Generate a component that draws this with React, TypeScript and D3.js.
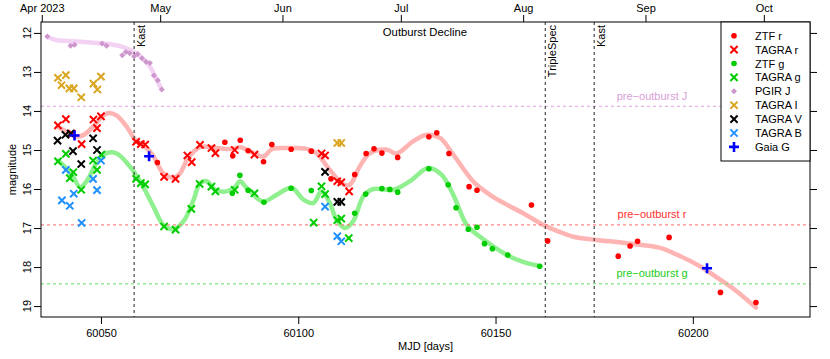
import React, { useEffect, useRef } from 'react';
import * as d3 from 'd3';

type Pt = [number, number];

// photometry: [MJD, magnitude]
const ztfR: Pt[] = [
  [60064.3, 15.32], [60081.4, 14.8], [60083.4, 15.15], [60085.3, 14.75], [60087.3, 15.02],
  [60091.2, 15.3], [60093.3, 14.86], [60098.2, 14.98], [60103.3, 15.03], [60108.3, 15.74],
  [60114.3, 15.63], [60117.2, 15.09], [60119.2, 14.97], [60121.2, 15.08], [60125.2, 15.19],
  [60133.1, 14.66], [60135.1, 14.56], [60138.2, 15.09], [60143.3, 15.94], [60145.3, 16.03],
  [60159.1, 16.41], [60163.2, 17.33], [60181.1, 17.72], [60184.1, 17.46], [60186.0, 17.34],
  [60194.0, 17.24], [60207.0, 18.65], [60216.0, 18.91],
];
const tagraR: Pt[] = [
  [60039.1, 14.37], [60041.1, 14.21], [60042.6, 14.58], [60045.1, 14.85], [60048.1, 14.22],
  [60049.0, 14.44], [60050.0, 14.14], [60058.9, 14.79], [60060.1, 14.85], [60061.2, 14.86],
  [60066.0, 15.69], [60068.9, 15.74], [60071.9, 15.14], [60073.0, 15.31], [60075.1, 14.87],
  [60078.0, 14.95], [60079.0, 15.08], [60083.9, 15.0], [60088.9, 15.12], [60105.9, 15.09],
  [60106.8, 15.14], [60109.9, 15.8], [60110.9, 15.83], [60112.9, 16.06],
];
const ztfG: Pt[] = [
  [60083.3, 16.11], [60085.2, 15.65], [60087.3, 16.03], [60091.3, 16.34], [60098.2, 15.98],
  [60103.3, 16.04], [60114.3, 16.62], [60117.1, 16.13], [60121.2, 15.99], [60123.2, 16.01],
  [60125.2, 16.08], [60133.1, 15.48], [60138.0, 15.89], [60140.0, 16.48], [60143.1, 17.03],
  [60145.3, 16.98], [60147.2, 17.4], [60149.2, 17.53], [60153.1, 17.69], [60161.2, 17.98],
];
const tagraG: Pt[] = [
  [60039.1, 15.29], [60041.1, 15.1], [60042.1, 15.72], [60043.0, 15.57], [60045.0, 16.02],
  [60048.0, 15.27], [60049.0, 15.51], [60050.1, 15.12], [60058.9, 15.74], [60060.1, 15.85],
  [60061.2, 15.88], [60066.0, 16.96], [60068.9, 17.04], [60072.9, 16.51], [60075.0, 15.87],
  [60078.0, 15.94], [60079.0, 16.06], [60083.9, 16.02], [60088.9, 16.11], [60103.9, 16.86],
  [60105.9, 15.93], [60106.8, 16.13], [60109.9, 16.8], [60110.9, 16.76], [60112.8, 17.26],
];
const pgirJ: Pt[] = [
  [60036.4, 12.09], [60042.3, 12.33], [60043.3, 12.3], [60050.3, 12.27], [60051.4, 12.33],
  [60055.4, 12.57], [60056.3, 12.49], [60057.3, 12.52], [60058.4, 12.6], [60059.3, 12.54],
  [60060.4, 12.65], [60061.4, 12.74], [60062.4, 12.77], [60063.4, 13.09], [60064.4, 13.21],
  [60065.4, 13.45],
];
const tagraI: Pt[] = [
  [60039.1, 13.15], [60040.0, 13.34], [60041.1, 13.08], [60042.0, 13.42], [60043.1, 13.42],
  [60045.0, 13.65], [60048.1, 13.3], [60049.1, 13.45], [60050.0, 13.12], [60109.9, 14.82],
  [60110.9, 14.82],
];
const tagraV: Pt[] = [
  [60039.0, 14.76], [60041.0, 14.61], [60042.3, 14.58], [60042.9, 15.03], [60045.0, 15.36],
  [60048.0, 14.7], [60049.0, 15.0], [60106.8, 15.56], [60109.9, 16.33], [60110.9, 16.33],
];
const tagraB: Pt[] = [
  [60040.1, 16.29], [60041.1, 15.51], [60042.1, 16.43], [60043.1, 16.12], [60045.1, 16.87],
  [60048.0, 15.74], [60049.0, 16.03], [60050.0, 15.27], [60106.8, 16.45], [60109.9, 17.21],
  [60110.9, 17.34],
];
const gaiaG: Pt[] = [[60043.3, 14.63], [60062.2, 15.16], [60203.6, 18.03]];

// smoothed light curves (knots)
const rCurve: Pt[] = [
  [60039.1, 14.4], [60041.5, 14.55], [60043.5, 14.65], [60045.5, 14.62], [60048.0, 14.4],
  [60050.5, 14.12], [60052.0, 14.05], [60054.0, 14.12], [60056.5, 14.4], [60058.9, 14.76],
  [60061.2, 14.91], [60063.3, 15.16], [60065.8, 15.6], [60068.3, 15.71], [60070.0, 15.6],
  [60071.8, 15.25], [60073.5, 15.04], [60075.3, 14.92], [60079.3, 14.95], [60083.5, 14.97],
  [60085.3, 14.93], [60087.5, 15.02], [60089.5, 15.12], [60091.2, 15.17], [60093.3, 14.98],
  [60097.1, 14.95], [60102.1, 14.97], [60104.6, 15.08], [60108.0, 15.51], [60111.4, 15.88],
  [60113.1, 15.89], [60115.6, 15.42], [60118.2, 15.08], [60122.4, 14.99], [60124.9, 15.09],
  [60129.1, 14.78], [60132.5, 14.61], [60135.9, 14.69], [60139.3, 15.12], [60144.4, 15.81],
  [60148.6, 16.15], [60152.8, 16.4], [60157.0, 16.62], [60162.1, 16.92], [60166.3, 17.1],
  [60170.0, 17.23], [60175.0, 17.3], [60183.2, 17.39], [60191.7, 17.51], [60195.9, 17.68],
  [60201.8, 17.98], [60206.9, 18.32], [60211.1, 18.62], [60216.0, 19.04],
];
const gCurve: Pt[] = [
  [60039.1, 15.27], [60041.3, 15.48], [60043.0, 15.7], [60044.7, 15.95], [60046.5, 15.78],
  [60048.9, 15.33], [60051.4, 15.08], [60054.0, 15.09], [60057.3, 15.42], [60059.9, 15.8],
  [60063.3, 16.45], [60065.8, 16.92], [60068.3, 17.03], [60070.9, 16.83], [60073.4, 16.3],
  [60075.1, 15.85], [60076.8, 15.8], [60078.9, 16.02], [60081.8, 16.06], [60084.0, 15.95],
  [60085.2, 15.8], [60086.9, 15.97], [60091.1, 16.32], [60094.5, 16.15], [60098.3, 15.97],
  [60101.3, 16.27], [60103.8, 16.36], [60105.9, 16.06], [60108.0, 16.36], [60109.7, 16.79],
  [60111.8, 17.0], [60113.9, 16.83], [60116.5, 16.19], [60119.0, 16.0], [60124.1, 16.02],
  [60128.3, 15.8], [60132.9, 15.46], [60136.3, 15.63], [60139.3, 16.15], [60142.7, 16.92],
  [60146.0, 17.22], [60149.4, 17.47], [60153.6, 17.73], [60157.0, 17.87], [60161.2, 17.98],
];
const jCurve: Pt[] = [
  [60036.4, 12.1], [60038.5, 12.18], [60042.3, 12.21], [60048.0, 12.25], [60051.4, 12.28],
  [60054.8, 12.34], [60057.3, 12.43], [60059.9, 12.6], [60062.4, 12.86], [60064.5, 13.28],
  [60065.2, 13.41],
];

// epochs of spectra and quiescent levels
const spectraMjd = [60058.4, 60162.6, 60175.0];
const spectraLabels = ['Kast', 'TripleSpec', 'Kast'];
const preMags = [13.88, 16.92, 18.43];
const preLabels = ['pre−outburst J', 'pre−outburst r', 'pre−outburst g'];

const monthTicks = [60035, 60065, 60096, 60126, 60157, 60188, 60218];
const monthLabels = ['Apr 2023', 'May', 'Jun', 'Jul', 'Aug', 'Sep', 'Oct'];
const mjdTicks = [60050, 60100, 60150, 60200];
const magTicks = [12, 13, 14, 15, 16, 17, 18, 19];

const FONT = '"Liberation Sans", Arial, Helvetica, sans-serif';

const App = () => {
  const ref = useRef<SVGSVGElement>(null);

  useEffect(() => {
    const svg = d3.select(ref.current);
    svg.selectAll('*').remove();

    const left = 41, right = 810, top = 22, bottom = 317;
    const x = d3.scaleLinear().domain([60034.8, 60229.7]).range([left, right]);
    const y = d3.scaleLinear().domain([11.72, 19.28]).range([top, bottom]);

    svg.append('defs').append('clipPath').attr('id', 'plotclip')
      .append('rect').attr('x', left).attr('y', top).attr('width', right - left).attr('height', bottom - top);

    const plot = svg.append('g').attr('clip-path', 'url(#plotclip)');

    const line = d3.line<Pt>().x(d => x(d[0])).y(d => y(d[1])).curve(d3.curveCatmullRom.alpha(0.5));

    // smooth fits
    const curves: [Pt[], string][] = [[jCurve, '#f4d2f4'], [rCurve, '#ffb4b4'], [gCurve, '#90f090']];
    curves.forEach(([data, col]) => {
      plot.append('path').datum(data).attr('fill', 'none').attr('stroke', col)
        .attr('stroke-width', 4.5).attr('stroke-linecap', 'round').attr('d', line);
    });

    // pre-outburst levels
    const preCols = ['#dda0dd', '#ff6a6a', '#66dd66'];
    const preTextCols = ['#d9a0d9', '#ff3030', '#22cc22'];
    preMags.forEach((m, i) => {
      plot.append('line').attr('x1', left).attr('x2', right).attr('y1', y(m)).attr('y2', y(m))
        .attr('stroke', preCols[i]).attr('stroke-dasharray', '3,3').attr('stroke-width', 1);
      plot.append('text').attr('x', 652).attr('y', y(m) - 6.5).attr('text-anchor', 'middle')
        .attr('fill', preTextCols[i]).style('font-family', FONT).style('font-size', '11px').text(preLabels[i]);
    });

    // spectra epochs
    spectraMjd.forEach((m, i) => {
      plot.append('line').attr('x1', x(m)).attr('x2', x(m)).attr('y1', top).attr('y2', bottom)
        .attr('stroke', '#222').attr('stroke-dasharray', '3,3').attr('stroke-width', 1);
      svg.append('text').attr('transform', `translate(${x(m) + 11},${top + 3}) rotate(-90)`)
        .attr('text-anchor', 'end').attr('fill', '#000')
        .style('font-family', FONT).style('font-size', '11px').text(spectraLabels[i]);
    });

    svg.append('text').attr('x', x(60132.1)).attr('y', 36).attr('text-anchor', 'middle')
      .style('font-family', FONT).style('font-size', '11.3px').text('Outburst Decline');

    const symbolPath = (shape: string) => {
      if (shape === 'cross') return 'M-3.6,-3.6L3.6,3.6M-3.6,3.6L3.6,-3.6';
      if (shape === 'plus') return 'M-5,0L5,0M0,-5L0,5';
      if (shape === 'diamond') return 'M0,-3L3,0L0,3L-3,0Z';
      return '';
    };

    const drawSym = (g: any, shape: string, col: string) => {
      if (shape === 'dot') {
        g.append('circle').attr('r', 2.8).attr('fill', col);
      } else if (shape === 'diamond') {
        g.append('path').attr('d', symbolPath(shape)).attr('fill', col);
      } else {
        g.append('path').attr('d', symbolPath(shape)).attr('fill', 'none').attr('stroke', col)
          .attr('stroke-width', shape === 'plus' ? 2.6 : 2);
      }
    };

    const series: { name: string; data: Pt[]; shape: string; col: string }[] = [
      { name: 'ZTF r', data: ztfR, shape: 'dot', col: '#ff0000' },
      { name: 'TAGRA r', data: tagraR, shape: 'cross', col: '#ff0000' },
      { name: 'ZTF g', data: ztfG, shape: 'dot', col: '#00cd00' },
      { name: 'TAGRA g', data: tagraG, shape: 'cross', col: '#00cd00' },
      { name: 'PGIR J', data: pgirJ, shape: 'diamond', col: '#cd96cd' },
      { name: 'TAGRA I', data: tagraI, shape: 'cross', col: '#daa520' },
      { name: 'TAGRA V', data: tagraV, shape: 'cross', col: '#000000' },
      { name: 'TAGRA B', data: tagraB, shape: 'cross', col: '#1e90ff' },
      { name: 'Gaia G', data: gaiaG, shape: 'plus', col: '#0000ff' },
    ];

    const drawOrder = [4, 5, 0, 1, 2, 3, 7, 6, 8];
    drawOrder.forEach(k => {
      const s = series[k];
      plot.append('g').selectAll('g').data(s.data).join('g')
        .attr('transform', d => `translate(${x(d[0])},${y(d[1])})`)
        .each(function () { drawSym(d3.select(this), s.shape, s.col); });
    });

    // frame and axes
    svg.append('rect').attr('x', left).attr('y', top).attr('width', right - left).attr('height', bottom - top)
      .attr('fill', 'none').attr('stroke', '#000').attr('stroke-width', 1);

    const axisBottom = svg.append('g').attr('transform', `translate(0,${bottom})`)
      .call(d3.axisBottom(x).tickValues(mjdTicks).tickSize(7).tickPadding(5).tickFormat(d3.format('d')));
    const axisTop = svg.append('g').attr('transform', `translate(0,${top})`)
      .call(d3.axisTop(x).tickValues(monthTicks).tickSize(7).tickPadding(3)
        .tickFormat((d, i) => monthLabels[i]));
    const axisRight = svg.append('g').attr('transform', `translate(${right},0)`)
      .call(d3.axisRight(y).tickValues(magTicks).tickSize(7).tickFormat(() => ''));
    const axisLeft = svg.append('g').attr('transform', `translate(${left},0)`)
      .call(d3.axisLeft(y).tickValues(magTicks).tickSize(7).tickFormat(() => ''));

    [axisBottom, axisTop, axisRight, axisLeft].forEach(a => {
      a.select('.domain').remove();
      a.selectAll('line').attr('stroke', '#000');
      a.selectAll('text').attr('fill', '#000').style('font-family', FONT).style('font-size', '11px');
    });

    svg.append('g').selectAll('text').data(magTicks).join('text')
      .attr('transform', d => `translate(31,${y(d)}) rotate(-90)`)
      .attr('text-anchor', 'middle').style('font-family', FONT).style('font-size', '11px')
      .text(d => d);

    svg.append('text').attr('x', (left + right) / 2).attr('y', 350).attr('text-anchor', 'middle')
      .style('font-family', FONT).style('font-size', '11px').text('MJD [days]');
    svg.append('text').attr('transform', `translate(16,${(top + bottom) / 2}) rotate(-90)`)
      .attr('text-anchor', 'middle').style('font-family', FONT).style('font-size', '11px').text('magnitude');

    // legend
    const lg = svg.append('g');
    lg.append('rect').attr('x', 721).attr('y', top).attr('width', right - 721).attr('height', 139)
      .attr('fill', '#fff').attr('stroke', '#000').attr('stroke-width', 1);
    series.forEach((s, i) => {
      const row = lg.append('g').attr('transform', `translate(734,${35.7 + i * 13.9})`);
      drawSym(row, s.shape, s.col);
      row.append('text').attr('x', 21).attr('y', 4).style('font-family', FONT).style('font-size', '11px')
        .text(s.name);
    });
  }, []);

  return (
    <svg ref={ref} width={830} height={359} style={{ position: 'absolute', left: 0, top: 0, background: '#fff' }} />
  );
};

export default App;
